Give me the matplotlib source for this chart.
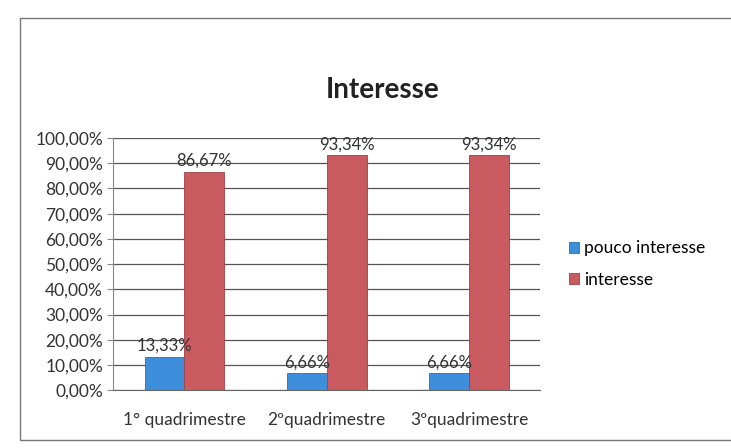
import numpy as np
import matplotlib.pyplot as plt
from matplotlib.patches import Rectangle

plt.rcParams['font.family'] = ['Lato', 'DejaVu Sans']

categorias = ['1° quadrimestre', '2ºquadrimestre', '3ºquadrimestre']
pouco_interesse = [13.33, 6.66, 6.66]
interesse = [86.67, 93.34, 93.34]
series = ['pouco interesse', 'interesse']
cores = ['#3d8fdc', '#c95a60']

fig = plt.figure(figsize=(7.31, 4.48), dpi=100)
ax = fig.add_axes([0.155, 0.129, 0.584, 0.563])

# moldura do grafico
fig.patches.append(Rectangle((0.027, 0.018), 0.975, 0.942, transform=fig.transFigure,
                             fill=False, edgecolor='#777777', linewidth=1.0))

x = np.arange(len(categorias))
w = 0.28
b1 = ax.bar(x - w / 2, pouco_interesse, w, color=cores[0], label=series[0], zorder=3,
            edgecolor='#2a6fb0', linewidth=0.6)
b2 = ax.bar(x + w / 2, interesse, w, color=cores[1], label=series[1], zorder=3,
            edgecolor='#a04045', linewidth=0.6)

def fmt(v):
    return ('%.2f%%' % v).replace('.', ',')

for bars, vals in ((b1, pouco_interesse), (b2, interesse)):
    for r, v in zip(bars, vals):
        ax.text(r.get_x() + r.get_width() / 2, v + 1.0, fmt(v), ha='center', va='bottom',
                fontsize=12, color='#333333', zorder=4)

ax.set_ylim(0, 100)
ax.set_xlim(-0.5, 2.5)
ax.set_yticks(np.arange(0, 101, 10))
ax.set_yticklabels([fmt(v) for v in np.arange(0, 101, 10)], fontsize=12.5, color='#333333')
ax.set_xticks(x)
ax.set_xticklabels(categorias, fontsize=12.5, color='#333333')
ax.yaxis.grid(True, color='#555555', linewidth=0.9, zorder=0)
for s in ['top', 'right']:
    ax.spines[s].set_visible(False)
ax.spines['left'].set_color('#888888')
ax.spines['bottom'].set_color('#666666')
ax.tick_params(axis='x', length=0, pad=16)
ax.tick_params(axis='y', length=4, color='#888888')

fig.text(0.523, 0.80, 'Interesse', ha='center', va='center', fontsize=20, fontweight='bold',
         color='#222222')

ax.legend(loc='center left', bbox_to_anchor=(1.03, 0.5), frameon=False, fontsize=12.5,
          handlelength=0.6, handleheight=0.6, handletextpad=0.3, labelspacing=0.9)

fig.savefig('out.png', dpi=100, facecolor='white')
